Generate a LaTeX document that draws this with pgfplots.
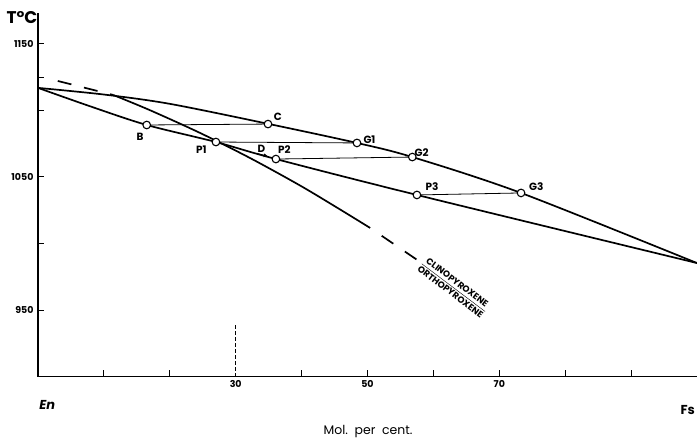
\documentclass[border=0pt]{standalone}
\usepackage{fontspec}
\setmainfont{Poppins}
\usepackage{pgfplots}
\pgfplotsset{compat=1.18}
\usetikzlibrary{arrows.meta}
\begin{document}
\begin{tikzpicture}
\begin{axis}[
  at={(0,0)}, anchor=south west,
  scale only axis, width=659bp, height=363.1bp,
  xmin=0, xmax=100, ymin=900, ymax=1173,
  axis x line=bottom, axis y line=left,
  axis line style={-, line width=1.6pt},
  tick align=inside,
  major tick length=6bp,
  tick style={line width=1pt, black},
  xtick={10,20,40,50,60,70,80,90,100},
  xticklabels={,,,50,,70,,,},
  extra x ticks={30}, extra x tick labels={30},
  extra x tick style={major tick length=0pt},
  ytick={950,1050,1150},
  extra y ticks={1000,1100,1125}, extra y tick labels={},
  ticklabel style={font=\fontsize{9.5}{10}\selectfont\bfseries},
  yticklabel style={xshift=-1bp},
  /pgf/number format/assume math mode=true,
  /pgf/number format/1000 sep={},
  clip=false,
]
% tie lines
\addplot[black, line width=0.8pt] coordinates {(16.5,1089.1) (34.9,1089.8)};
\addplot[black, line width=0.8pt] coordinates {(27.0,1076.3) (48.4,1075.6)};
\addplot[black, line width=0.8pt] coordinates {(36.1,1063.5) (56.8,1065.0)};
\addplot[black, line width=0.8pt] coordinates {(57.5,1036.5) (73.3,1038.0)};
% upper curve
\addplot[black, line width=1.7pt, smooth] coordinates {
 (0,1117) (10,1112) (20,1105) (34.9,1090) (48.4,1075.6) (56.8,1065) (73.3,1038) (100,985.3)};
% lower curve
\addplot[black, line width=1.7pt, smooth] coordinates {
 (0,1117) (8,1103) (16.5,1089.1) (27.0,1076.3) (36.1,1063.5) (57.5,1036.5) (100,985.3)};
% clino/ortho boundary
\addplot[black, line width=1.7pt, dash pattern=on 14bp off 13bp] coordinates {(3.0,1122.2) (11.4,1111.7)};
\addplot[black, line width=1.7pt, smooth] coordinates {
 (11.4,1111.7) (17.0,1100.2) (24.6,1083.1) (32.2,1064.2) (39.8,1043.5) (45.8,1025.7) (50.4,1011.7)};
\addplot[black, line width=1.7pt, dash pattern=on 14bp off 14bp, dash phase=14bp] coordinates {(50.4,1011.7) (58.0,986.1)};
% D arrow
\addplot[black, line width=0.9pt, -{Latex[length=5pt,width=4pt]}] coordinates {(33.2,1067.8) (35.0,1065.3)};
% 30 dashed marker line
\addplot[black, line width=1.1pt, dash pattern=on 3.5bp off 2.5bp] coordinates {(30,900) (30,938.7)};
% points
\addplot[only marks, mark=*, mark size=3.8bp, mark options={fill=white, draw=black, line width=1.1pt}] coordinates {
 (16.5,1089.1) (34.9,1089.8) (27.0,1076.3) (48.4,1075.6) (36.1,1063.5) (56.8,1065.0) (57.5,1036.5) (73.3,1038.0)};
% labels
\begin{scope}[every node/.style={font=\fontsize{10.5}{11}\selectfont\bfseries, inner sep=0pt}]
\node at (axis cs:15.5,1080.1) {B};
\node at (axis cs:36.4,1095.3) {C};
\node at (axis cs:50.3,1078.0) {G1};
\node at (axis cs:58.2,1068.2) {G2};
\node at (axis cs:75.6,1042.7) {G3};
\node at (axis cs:24.8,1070.3) {P1};
\node at (axis cs:33.9,1071.3) {D};
\node at (axis cs:37.4,1070.5) {P2};
\node at (axis cs:59.8,1042.7) {P3};
\end{scope}
\node[rotate=-37, inner sep=0pt, font=\fontsize{9}{10}\selectfont\bfseries] at (axis cs:63.0,966.5)
 {\begin{tabular}{@{}c@{}}CLINOPYROXENE\\[0pt]\hline\noalign{\vskip1pt}ORTHOPYROXENE\end{tabular}};
\node[font=\fontsize{17}{19}\selectfont\bfseries, anchor=center] at (axis cs:0,1170.0) [xshift=-16bp] {T°C};
\node[font=\fontsize{13}{15}\selectfont\bfseries\itshape] at (axis cs:1.4,900) [yshift=-28.5bp] {En};
\node[font=\fontsize{13}{15}\selectfont\bfseries] at (axis cs:98.6,900) [yshift=-33.5bp] {Fs};
\node[font=\fontsize{12.5}{14}\selectfont] at (axis cs:50.1,900) [yshift=-55.5bp] {Mol.\ \ per\ \ cent.};
\end{axis}
\pgfresetboundingbox
\path[use as bounding box] (-38bp,-66.5bp) rectangle (659bp,376.5bp);
\end{tikzpicture}
\end{document}
